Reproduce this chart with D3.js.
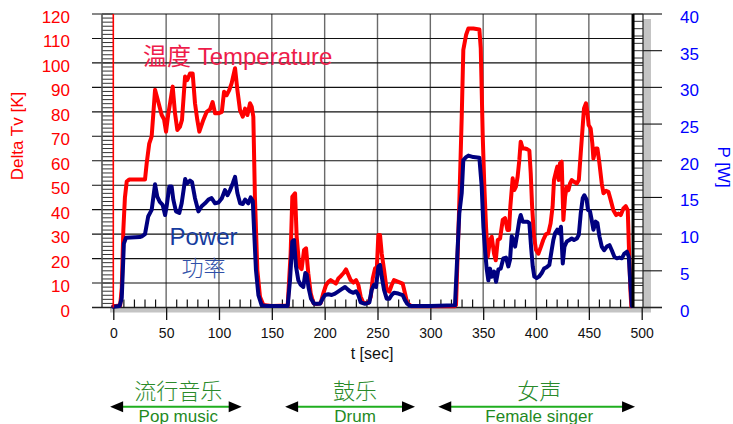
<!DOCTYPE html>
<html>
<head>
<meta charset="utf-8">
<script src="https://cdn.jsdelivr.net/npm/d3@7"></script>
<style>
  html, body { margin: 0; padding: 0; background: #fff; }
  svg { display: block; }
  text { font-family: "Liberation Sans", Arial, "Noto Sans CJK SC", sans-serif; }
</style>
</head>
<body>
<svg id="chart" width="733" height="424"></svg>
<script>
// Temperature rise (K) over time (s)
const tempT = [0, 6.5, 8, 9.5, 11, 12.7, 15, 30, 31.6, 34, 36.3, 38, 39.5, 42.6, 45.8, 48, 49.9, 52, 53.7, 56.2, 58.4, 60.6, 63.1, 65, 67.9, 70, 72.6, 75.1, 77.3, 79.5, 81.4, 85.2, 88.4, 91.5, 94, 96.3, 99.5, 102.7, 104.8, 107.3, 109.8, 112, 115.2, 117.4, 119.9, 122.5, 124.7, 126.9, 129.4, 131, 132.5, 134, 136.3, 138.8, 142, 150, 165,
  167.8, 169.4, 172, 173.5, 176, 178.2, 180.5, 182.4, 184.5, 186.8, 189.3, 192.5, 196.3, 198.7, 201.3, 203.5, 205.7, 208.2, 210.7, 213, 215.2, 217.7, 220.2, 222.4, 224.6, 227.2, 229.7, 231.9, 234.1, 236.6, 241.3, 243.6, 245.5, 247.7, 249.3, 250.8, 252.4, 254, 256.2, 258.7, 261.2, 263.4, 265.6, 269.7, 273.8, 276, 278.2, 282.3, 300, 323,
  324.3, 327.4, 329.7, 331.2, 333.8, 336, 340.7, 346.4, 347.7, 349.6, 351.1, 352.7, 354.3, 356.5, 358.1, 360.3, 361.9, 363.8, 366, 368.5, 370.7, 372.9, 374.5, 375.7, 377.9, 379.4, 381, 382.6, 384.2, 385.5, 387.4, 389.5, 391.8, 393.7, 395, 396.3, 398.1, 400, 402.2, 404.7, 406.8, 409.4, 411.6, 413.8, 415.7, 417, 418.9, 420.1, 421.4, 422.7, 424.3, 425.9, 427.5, 429.1, 430.7, 432.2, 433.8, 436, 438.6, 440.5, 442.3, 443.9, 445.4, 447.3, 448.6, 449.8, 451.7, 453.3, 454.3, 456.5, 458.1, 460, 462.2, 463.8, 466.3, 468.5, 470.7, 473.2, 475.8, 478, 480.2, 482.7, 484.9, 486.8, 488, 489.3, 490.2];
const tempK = [0.5, 0.8, 8, 31.7, 45, 51.5, 52.3, 52.3, 59, 67, 70, 80, 89, 84, 78.7, 77, 71.9, 79, 83.5, 90.3, 79.4, 72.6, 73.9, 76.7, 94.4, 93, 95.7, 95.7, 83.5, 76.7, 71.9, 76.7, 80, 81, 84, 79.4, 79.4, 80, 88.2, 86.8, 89, 91.7, 97.8, 89, 80.7, 78, 81.3, 78.7, 83.5, 82, 78, 45.3, 15.3, 4.4, 1, 0.6, 0.8,
  22, 45.3, 46.7, 29, 16.7, 15.7, 23.5, 24.2, 14, 5.8, 1.8, 1.4, 1.8, 5.8, 9.2, 10.5, 11.2, 10.5, 9.8, 11.9, 12.8, 14, 15.6, 13.4, 11.2, 10.2, 11.2, 9.2, 4.4, 1.8, 1.8, 4.4, 11.9, 16, 15.4, 29.6, 29.6, 22, 15.4, 7.2, 6.5, 9.2, 11.2, 10.5, 9.8, 5.8, 1.8, 0.5, 0.5, 0.5,
  1, 42.6, 78, 105.3, 111.4, 114.1, 114.1, 113.7, 106, 69.8, 49.4, 33, 20.8, 27.6, 28.9, 22, 19.3, 27.6, 28.2, 35.8, 36.5, 31.7, 31.7, 41.3, 52.8, 48, 49.4, 53.5, 60.3, 67.8, 65, 65, 64.7, 64.1, 54.8, 41.3, 29, 23.5, 22, 24.9, 27.6, 30, 30.3, 34.4, 41.3, 52.1, 55.5, 57.6, 52.1, 59, 59.6, 35.8, 45.3, 49.4, 48, 50.7, 52.1, 51.4, 50.7, 52.1, 63, 72.5, 81.4, 83.5, 80, 74.6, 73.2, 67, 60.9, 65, 65, 59, 50.7, 46.7, 47.7, 47.3, 43.9, 39.8, 37.8, 38.4, 37.8, 40.5, 41.4, 39.8, 23.5, 7.2, 0.5];

// Electrical power (W) over time (s)
const powerT = [0, 6, 8, 10, 12, 25, 27, 30, 33, 36.3, 39.5, 41.6, 44, 46.7, 49, 50.5, 53, 55.2, 56.8, 59.3, 62.5, 64.7, 68, 70, 72.6, 74.5, 77.3, 80.5, 83.6, 86.8, 90, 93, 96.3, 99.5, 102.7, 105.7, 108, 110.5, 113, 115.2, 117.4, 120, 122.5, 124.7, 127.8, 130, 132, 133.2, 135, 137.3, 140.4, 145, 165,
  167.2, 169.4, 171, 172.9, 175.1, 177.3, 179.8, 181.7, 183, 184.9, 187.1, 190, 195.6, 198.1, 200.3, 203.5, 206.6, 209.8, 213, 216.1, 219.3, 221.5, 224, 227.2, 229.7, 231.9, 234.1, 238.2, 242.3, 244.5, 246.7, 248.6, 250.8, 252.4, 254, 256.2, 258.7, 261.2, 263.4, 265.6, 269.7, 273.8, 276, 278.2, 280.7, 300, 323.3,
  325.6, 327.4, 329.7, 331.2, 333.8, 336, 340.7, 346.4, 348.6, 350.2, 351.8, 353.3, 354.9, 356.5, 358.1, 360.3, 362.2, 364.4, 366.6, 369.1, 371.6, 373.8, 375.4, 377, 378.6, 380.2, 382.3, 384.2, 385.5, 387.4, 391.8, 393.7, 395.3, 396.9, 398.4, 400.6, 402.8, 405.4, 407.6, 410.1, 412.6, 414.8, 416.4, 418, 420.1, 422, 423.6, 425.3, 426.9, 429.1, 431.6, 433.8, 436, 438.6, 440.5, 442.3, 444.2, 445.7, 447.9, 449.2, 451.1, 452.7, 454.3, 456.5, 458.1, 460, 462.2, 464.4, 467, 469.5, 471.7, 474.2, 476.5, 479, 481.2, 483.4, 486, 487.8, 489.1, 490.7];
const powerW = [0.1, 0.2, 1.3, 8.7, 9.5, 9.6, 9.7, 10, 12.4, 13.3, 16.8, 15.1, 14.4, 14, 12.6, 13.8, 16.5, 16.5, 14.7, 13.1, 12.9, 14.2, 17.5, 16.9, 17.3, 17.1, 14.9, 13.1, 13.8, 14.2, 14.7, 14.9, 14.2, 14.3, 14.9, 16, 15.3, 16, 16.9, 17.8, 15.6, 14.2, 14.1, 14.7, 14.2, 15, 14.5, 10.6, 5.1, 1.7, 0.3, 0.2, 0.2,
  3.7, 9, 9.2, 5.6, 3.7, 3.1, 2.8, 4.7, 4.5, 2.6, 1.2, 0.5, 0.5, 1.2, 1.7, 1.8, 1.7, 1.9, 2.2, 2.5, 2.8, 2.5, 2.2, 2, 2.2, 1.7, 0.7, 0.5, 0.7, 2.4, 3.1, 2.8, 5.6, 5.8, 4.2, 2.4, 1.2, 1.2, 1.7, 2, 1.9, 1.7, 1, 0.5, 0.2, 0.2, 0.3,
  7.3, 12.8, 15.6, 20.1, 20.5, 20.7, 20.5, 20.4, 16.5, 11, 7.8, 5.3, 3.7, 5.3, 4.2, 4.9, 3.5, 5.2, 5.3, 6.7, 6.8, 5.6, 6.5, 9.7, 9.2, 8.3, 10.1, 11.9, 12.6, 11.7, 11.7, 11.5, 8.3, 5.6, 4.2, 4, 4.2, 4.7, 5.3, 5.5, 5.8, 7.8, 9.2, 10.1, 10.6, 10.1, 11, 6, 8.3, 9, 9.2, 9.4, 9.2, 9.4, 9.9, 12.8, 14.9, 15.3, 14.7, 13.3, 13.1, 11.9, 10.6, 11.7, 11.5, 9.7, 8.3, 7.8, 8.3, 8.5, 7.8, 6.9, 6.7, 6.8, 6.7, 7.3, 7.6, 6.9, 3.7, 0.2];

// Axis ticks
const tempTicks = d3.range(0, 121, 10);
const powerTicks = d3.range(0, 41, 5);
const timeTicks = d3.range(0, 501, 50);
const timeMinor = d3.range(10, 500, 10).filter(v => v % 50 !== 0);

// Cursor positions (s)
const cursorStart = 0;
const cursorEnd = 491.8;

// Music sections (s)
const sectionZh = ["流行音乐", "鼓乐", "女声"];
const sectionEn = ["Pop music", "Drum", "Female singer"];
const sectionFrom = [-3, 162.6, 307.5];
const sectionTo = [121.5, 285.5, 493.7];
const sectionLabelAt = [61.5, 228.8, 403];

const svg = d3.select("#chart");

const x = d3.scaleLinear().domain([0, 500]).range([113.3, 641.7]);
const yK = d3.scaleLinear().domain([0, 120]).range([307.5, 14]);
const yP = d3.scaleLinear().domain([0, 40]).range([307.5, 14]);

const frameL = 102, frameR = 643, frameT = yK(120), frameB = yK(0);
const tickL = 92, tickR = 662;

// drop shadow + plot area
svg.append("rect").attr("x", frameL + 8).attr("y", frameT + 5)
  .attr("width", frameR - frameL).attr("height", frameB - frameT).attr("fill", "#c4c4c4");
svg.append("rect").attr("x", frameL).attr("y", frameT)
  .attr("width", frameR - frameL).attr("height", frameB - frameT).attr("fill", "#fff");

// vertical grid
svg.append("g").selectAll("line").data(timeTicks.filter(v => v > 0 && v < 500)).join("line")
  .attr("x1", d => x(d)).attr("x2", d => x(d))
  .attr("y1", frameT).attr("y2", frameB)
  .attr("stroke", "#6a6a6a").attr("stroke-width", 1.4);

// horizontal grid (temperature scale)
svg.append("g").selectAll("line").data(tempTicks).join("line")
  .attr("x1", tickL).attr("x2", frameR)
  .attr("y1", d => yK(d)).attr("y2", d => yK(d))
  .attr("stroke", "#111").attr("stroke-width", 1.1);

// right ticks (power scale)
svg.append("g").selectAll("line").data(powerTicks).join("line")
  .attr("x1", frameR).attr("x2", tickR)
  .attr("y1", d => yP(d)).attr("y2", d => yP(d))
  .attr("stroke", "#111").attr("stroke-width", 1.1);

// left ladder
const ladL = svg.append("g");
ladL.selectAll("line").data(d3.range(0, 121, 10 / 6)).join("line")
  .attr("x1", frameL).attr("x2", x(0))
  .attr("y1", d => yK(d)).attr("y2", d => yK(d))
  .attr("stroke", "#333").attr("stroke-width", 1);
ladL.append("line").attr("x1", frameL).attr("x2", frameL)
  .attr("y1", frameT).attr("y2", frameB).attr("stroke", "#555").attr("stroke-width", 1.6);

// right ladder
const ladR = svg.append("g");
ladR.selectAll("line").data(d3.range(0, 41, 1)).join("line")
  .attr("x1", x(cursorEnd)).attr("x2", frameR)
  .attr("y1", d => yP(d)).attr("y2", d => yP(d))
  .attr("stroke", "#333").attr("stroke-width", 1);
ladR.append("line").attr("x1", frameR).attr("x2", frameR)
  .attr("y1", frameT).attr("y2", frameB).attr("stroke", "#222").attr("stroke-width", 1.2);

// x axis baseline and ticks
svg.append("line").attr("x1", tickL).attr("x2", tickR)
  .attr("y1", frameB).attr("y2", frameB).attr("stroke", "#222").attr("stroke-width", 1.3);
svg.append("g").selectAll("line").data(timeMinor).join("line")
  .attr("x1", d => x(d)).attr("x2", d => x(d))
  .attr("y1", frameB - 8).attr("y2", frameB)
  .attr("stroke", "#111").attr("stroke-width", 1.2);

const xAxis = svg.append("g").attr("transform", `translate(0,${frameB})`)
  .call(d3.axisBottom(x).tickValues(timeTicks).tickSize(12.5).tickPadding(8));
xAxis.select(".domain").remove();
xAxis.selectAll(".tick line").attr("stroke", "#111").attr("stroke-width", 1.3);
xAxis.selectAll(".tick text").attr("fill", "#111").style("font-size", "14px")
  .style("font-family", "'Liberation Sans', Arial, sans-serif");

const leftAxis = svg.append("g").attr("transform", `translate(${tickL},0)`)
  .call(d3.axisLeft(yK).tickValues(tempTicks).tickSize(0).tickPadding(22));
leftAxis.select(".domain").remove();
leftAxis.selectAll(".tick text").attr("fill", "#ff0000").attr("dy", "0.5em")
  .style("font-size", "17px").style("font-family", "'Liberation Sans', Arial, sans-serif");

const rightAxis = svg.append("g").attr("transform", `translate(${tickR},0)`)
  .call(d3.axisRight(yP).tickValues(powerTicks).tickSize(0).tickPadding(18));
rightAxis.select(".domain").remove();
rightAxis.selectAll(".tick text").attr("fill", "#0000ff").attr("dy", "0.5em")
  .style("font-size", "17px").style("font-family", "'Liberation Sans', Arial, sans-serif");

// series
const tempLine = d3.line().x(d => x(d[0])).y(d => yK(d[1])).curve(d3.curveLinear);
const powerLine = d3.line().x(d => x(d[0])).y(d => yP(d[1])).curve(d3.curveLinear);

svg.append("path").datum(d3.zip(tempT, tempK)).attr("d", tempLine)
  .attr("fill", "none").attr("stroke", "#ff0000").attr("stroke-width", 4)
  .attr("stroke-linejoin", "round").attr("stroke-linecap", "round");
svg.append("path").datum(d3.zip(powerT, powerW)).attr("d", powerLine)
  .attr("fill", "none").attr("stroke", "#000080").attr("stroke-width", 4)
  .attr("stroke-linejoin", "round").attr("stroke-linecap", "round");

// cursors
svg.append("line").attr("x1", x(cursorStart)).attr("x2", x(cursorStart))
  .attr("y1", frameT).attr("y2", frameB).attr("stroke", "#ff0000").attr("stroke-width", 1.6);
svg.append("line").attr("x1", x(cursorEnd)).attr("x2", x(cursorEnd))
  .attr("y1", frameT).attr("y2", frameB).attr("stroke", "#000").attr("stroke-width", 3);

// axis titles
svg.append("text").attr("transform", "translate(23,136) rotate(-90)")
  .attr("text-anchor", "middle").attr("fill", "#ff0000").style("font-size", "17px")
  .text("Delta Tv [K]");
svg.append("text").attr("transform", "translate(718,167) rotate(90)")
  .attr("text-anchor", "middle").attr("fill", "#0000ff").style("font-size", "17px")
  .text("P [W]");
svg.append("text").attr("x", 372).attr("y", 358.5)
  .attr("text-anchor", "middle").attr("fill", "#111").style("font-size", "16px")
  .text("t [sec]");

// series captions
svg.append("text").attr("x", 143).attr("y", 64.5).attr("fill", "#ee1c4a")
  .style("font-size", "24px").text("温度 Temperature");
svg.append("text").attr("x", 203.5).attr("y", 245).attr("text-anchor", "middle")
  .attr("fill", "#163c9e").style("font-size", "24px").text("Power");
svg.append("text").attr("x", 203.5).attr("y", 266).attr("text-anchor", "middle")
  .attr("dominant-baseline", "central")
  .attr("fill", "#3050a8").style("font-size", "22px").style("font-weight", "300")
  .style("font-family", "'Noto Sans CJK SC', sans-serif")
  .text("功率");

// music sections
const arrowY = 406.7;
const sec = svg.append("g");
sectionZh.forEach((zh, i) => {
  const a = x(sectionFrom[i]), b = x(sectionTo[i]), c = x(sectionLabelAt[i]);
  sec.append("line").attr("x1", a + 8).attr("x2", b - 8).attr("y1", arrowY).attr("y2", arrowY)
    .attr("stroke", "#1fae1f").attr("stroke-width", 2);
  sec.append("path").attr("d", `M${a},${arrowY}L${a + 13},${arrowY - 5.5}L${a + 13},${arrowY + 5.5}Z`).attr("fill", "#000");
  sec.append("path").attr("d", `M${b},${arrowY}L${b - 13},${arrowY - 5.5}L${b - 13},${arrowY + 5.5}Z`).attr("fill", "#000");
  sec.append("text").attr("x", c).attr("y", 389).attr("text-anchor", "middle")
    .attr("dominant-baseline", "central").attr("fill", "#2a8a2a")
    .style("font-size", "22px").style("font-weight", "300")
    .style("font-family", "'Noto Sans CJK SC', sans-serif").text(zh);
  sec.append("text").attr("x", c).attr("y", 421.5).attr("text-anchor", "middle")
    .attr("fill", "#1f8a1f").style("font-size", "17px").text(sectionEn[i]);
});
</script>
</body>
</html>
